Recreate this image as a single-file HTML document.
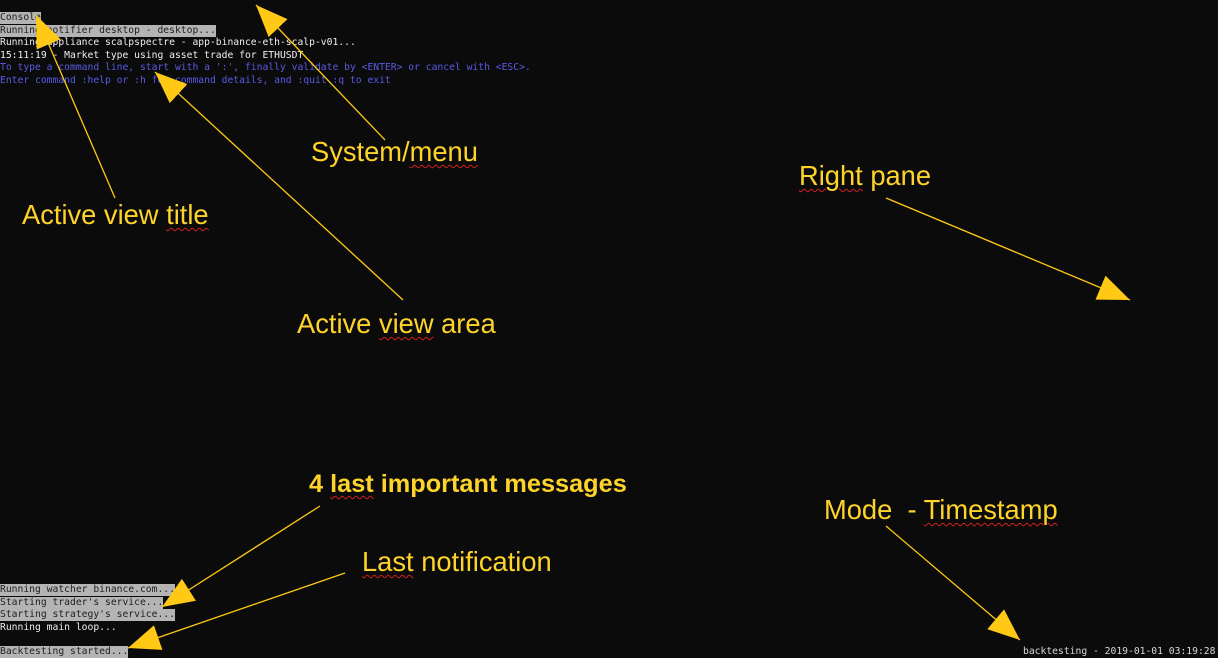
<!DOCTYPE html>
<html><head><meta charset="utf-8"><style>
body{margin:0;width:1218px;height:657px;background:#0b0b0b;position:relative;overflow:hidden}
.t{position:absolute;left:0;font-family:"DejaVu Sans Mono","Liberation Mono",monospace;font-size:9.7px;line-height:12.3px;height:12.3px;white-space:pre;color:#f0f0f0}
.h{background:#b4b4b4;color:#202020}
.b{color:#5a5ae6}
.l{position:absolute;font-family:"Liberation Sans",sans-serif;font-size:27.3px;color:#ffd42a;white-space:pre;line-height:30px}
.w{text-decoration:underline wavy #d02020;text-decoration-thickness:1px;text-underline-offset:3px}
svg{position:absolute;left:0;top:0}
</style></head><body>
<div class="t h" style="top:12px">Console</div>
<div class="t h" style="top:24.5px">Running notifier desktop - desktop...</div>
<div class="t" style="top:37px">Running appliance scalpspectre - app-binance-eth-scalp-v01...</div>
<div class="t" style="top:49.5px">15:11:19 - Market type using asset trade for ETHUSDT</div>
<div class="t b" style="top:62px">To type a command line, start with a ':', finally validate by &lt;ENTER&gt; or cancel with &lt;ESC&gt;.</div>
<div class="t b" style="top:74.5px">Enter command :help or :h for command details, and :quit :q to exit</div>

<div class="t h" style="top:584px">Running watcher binance.com...</div>
<div class="t h" style="top:596.5px">Starting trader's service...</div>
<div class="t h" style="top:609px">Starting strategy's service...</div>
<div class="t" style="top:621.5px">Running main loop...</div>
<div class="t h" style="top:645.5px">Backtesting started...</div>
<div class="t" style="top:645.5px;left:1023px;color:#d8d8d8">backtesting - 2019-01-01 03:19:28</div>

<div class="l" style="left:311px;top:137px">System/<span class="w">menu</span></div>
<div class="l" style="left:22px;top:200px">Active view <span class="w">title</span></div>
<div class="l" style="left:799px;top:161px"><span class="w">Right</span> pane</div>
<div class="l" style="left:297px;top:309px">Active <span class="w">view</span> area</div>
<div class="l" style="left:309px;top:469px;font-weight:bold;font-size:25.3px">4 <span class="w">last</span> important messages</div>
<div class="l" style="left:824px;top:495px">Mode  - <span class="w">Timestamp</span></div>
<div class="l" style="left:362px;top:547px"><span class="w">Last</span> notification</div>

<svg width="1218" height="657">
<defs><marker id="a" markerUnits="userSpaceOnUse" markerWidth="34" markerHeight="26" refX="32" refY="13" orient="auto"><path d="M0,0 L32,13 L0,26 Z" fill="#ffc915"/></marker></defs>
<g stroke="#ffc915" stroke-width="1.3" fill="none" marker-end="url(#a)">
<line x1="115" y1="198" x2="36" y2="15"/>
<line x1="385" y1="140" x2="256" y2="5"/>
<line x1="403" y1="300" x2="155" y2="72"/>
<line x1="886" y1="198" x2="1130" y2="300"/>
<line x1="320" y1="506" x2="162" y2="607"/>
<line x1="345" y1="573" x2="128" y2="648"/>
<line x1="886" y1="526" x2="1020" y2="640"/>
</g></svg>
</body></html>
